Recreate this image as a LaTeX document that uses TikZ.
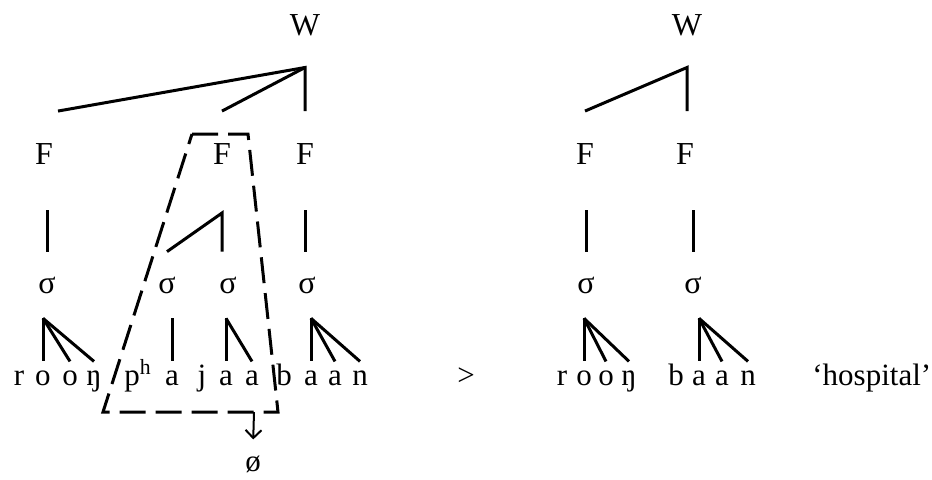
\documentclass[tikz,border=0pt]{standalone}
\usepackage{fontspec}
\setmainfont{Liberation Serif}
\usetikzlibrary{arrows.meta}
\newcommand{\catfont}{\fontsize{16}{19}\selectfont}
\newcommand{\segfont}{\fontsize{15.5}{18}\selectfont}

\begin{document}
\begin{tikzpicture}[x=0.5pt, y=-0.5pt,
  cat/.style={font=\catfont, inner sep=0pt, outer ysep=16pt, anchor=base},
  syl/.style={font=\catfont, inner sep=0pt, outer ysep=12.5pt, anchor=base},
  seg/.style={font=\segfont, inner sep=0pt, text height=6.8pt, text depth=0pt,
    outer ysep=5pt, anchor=base},
  br/.style={line width=1.5pt},
  cut/.style={line width=1.5pt, dash pattern=on 13pt off 5pt},
  arr/.style={-{Straight Barb[length=4pt,width=8pt]}, line width=1pt}
]
  \useasboundingbox (0,0) rectangle (932,479);

  % left tree
  \node[cat] (wL) at (305,35) {W};
  \node[cat] (fA) at (44,164) {F};
  \node[cat] (fB) at (222,164) {F};
  \node[cat] (fC) at (305,164) {F};
  \node[syl] (sA) at (47,293) {σ};
  \node[syl] (sB) at (167,293) {σ};
  \node[syl] (sC) at (228,293) {σ};
  \node[syl] (sD) at (307,293) {σ};

  \node[seg] (lr) at (19,385) {r};
  \node[seg] (lo1) at (43,385) {o};
  \node[seg] (lo2) at (70,385) {o};
  \node[seg] (lng) at (94,385) {ŋ};
  \node[seg] (lph) at (138,385) {p\textsuperscript{h}};
  \node[seg] (la1) at (172,385) {a};
  \node[seg] (lj) at (202,385) {j};
  \node[seg] (la2) at (226,385) {a};
  \node[seg] (la3) at (252,385) {a};
  \node[seg] (lb) at (284,385) {b};
  \node[seg] (la4) at (311,385) {a};
  \node[seg] (la5) at (335,385) {a};
  \node[seg] (ln) at (360,385) {n};

  \draw[br] ([xshift=7pt]fA.north) -- (wL.south) -- (wL |- fC.north);
  \draw[br] (fB.north) -- (wL.south);
  \draw[br, shorten <=7pt] (sA |- fA.south) -- (sA.north);
  \draw[br] (sB.north) -- ([yshift=-8.5pt]fB.south) -- (fB |- sC.north);
  \draw[br, shorten <=7pt] (fC.south) -- (fC |- sD.north);

  \foreach \s in {lo1,lo2,lng} \draw[br] (lo1 |- sA.south) -- (\s.north);
  \draw[br] (la1 |- sB.south) -- (la1.north);
  \foreach \s in {la2,la3} \draw[br] (la2 |- sC.south) -- (\s.north);
  \foreach \s in {la4,la5,ln} \draw[br] (la4 |- sD.south) -- (\s.north);

  % deleted foot
  \draw[cut] (192,134) -- (248,134) -- (278,412) -- (103,412) -- cycle;
  \coordinate (drop) at (254,412);
  \node[seg] (nul) at (253,471) {ø};
  \draw[arr, shorten >=4pt] (drop) -- (nul.north);

  \node[seg] (gt) at (466,385) {>};

  % right tree
  \node[cat] (wR) at (687,35) {W};
  \node[cat] (fD) at (585,164) {F};
  \node[cat] (fE) at (685,164) {F};
  \node[syl] (sE) at (586,293) {σ};
  \node[syl] (sF) at (693,293) {σ};

  \node[seg] (rr) at (562,385) {r};
  \node[seg] (ro1) at (584,385) {o};
  \node[seg] (ro2) at (606,385) {o};
  \node[seg] (rng) at (629,385) {ŋ};
  \node[seg] (rb) at (676,385) {b};
  \node[seg] (ra1) at (699,385) {a};
  \node[seg] (ra2) at (722,385) {a};
  \node[seg] (rn) at (748,385) {n};

  \draw[br] (fD.north) -- (wR.south) -- (wR |- fE.north);
  \draw[br, shorten <=7pt] (sE |- fD.south) -- (sE.north);
  \draw[br, shorten <=7pt] (sF |- fE.south) -- (sF.north);
  \foreach \s in {ro1,ro2,rng} \draw[br] (ro1 |- sE.south) -- (\s.north);
  \foreach \s in {ra1,ra2,rn} \draw[br] (ra1 |- sF.south) -- (\s.north);

  \node[seg, anchor=base west] (gloss) at (812,385) {‘hospital’};
\end{tikzpicture}
\end{document}
